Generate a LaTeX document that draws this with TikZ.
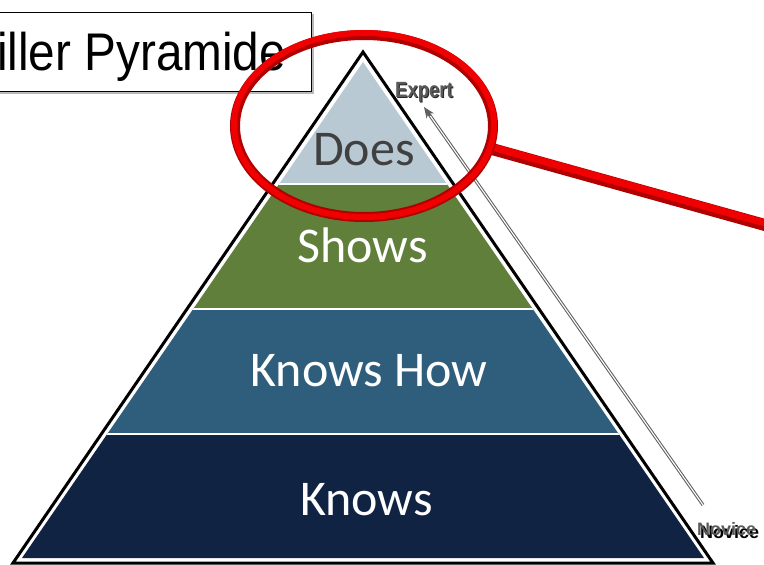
\documentclass[tikz,border=0pt]{standalone}
\usepackage{fontspec}
\setmainfont{Liberation Sans}
\newfontfamily\slidefont{Carlito}
\usetikzlibrary{arrows.meta}

\definecolor{doesfill}{HTML}{B8C9D4}
\definecolor{showsfill}{HTML}{5F7F3B}
\definecolor{howfill}{HTML}{2F5E7C}
\definecolor{knowsfill}{HTML}{102343}
\definecolor{doestext}{HTML}{404040}
\definecolor{lensred}{HTML}{F00000}
\definecolor{lensdark}{HTML}{B00000}
\definecolor{tagtext}{HTML}{5A5A5A}

\tikzset{
  level/.style={font=\slidefont\fontsize{50}{60}\selectfont, text=white,
    anchor=base, inner sep=0pt},
  tag/.style={font=\bfseries\fontsize{#1}{#1}\selectfont, anchor=base west,
    inner sep=0pt},
}

\begin{document}
\begin{tikzpicture}[x=1pt,y=-1pt]
  \useasboundingbox (0,0) rectangle (764,565);

  % title box
  \fill[gray!55] (0,14) rectangle (313.5,93.5);
  \draw[fill=white, line width=1] (-2,12) rectangle (311,91);
  \node[anchor=base west, inner sep=0pt, font=\fontsize{53}{60}\selectfont]
    (title) at (-3,70) {\scalebox{0.9}[1]{iller Pyramide}};

  % pyramid bands
  \begin{scope}
    \clip (363,62) -- (704,558) -- (22,558) -- cycle;
    \fill[doesfill] (0,0) rectangle (764,184);
    \fill[showsfill] (0,184) rectangle (764,309);
    \fill[howfill] (0,309) rectangle (764,434);
    \fill[knowsfill] (0,434) rectangle (764,565);
    \foreach \y in {184,309,434}
      \draw[white, line width=2] (0,\y) -- (764,\y);
  \end{scope}
  \draw[line width=3, line join=miter] (363,52) -- (713,563) -- (13,563) -- cycle;

  % level labels
  \node[level, text=doestext] (does) at (364,165) {Does};
  \node[level] (shows) at (362.5,262) {Shows};
  \node[level] (how) at (369,386) {Knows How};
  \node[level] (knows) at (366.5,515) {Knows};

  % novice -> expert arrow
  \coordinate (foot) at (703,505);
  \coordinate (tip) at (424,107);
  \draw[gray!75!black, line width=3.2, -{Stealth[length=11pt,width=9pt]}] (foot) -- (tip);
  \draw[white, line width=1.1, shorten >=11pt] (foot) -- (tip);

  \node[tag=22, text=black!85] (expertshade) at (396,98)
    {\scalebox{0.84}[1]{Expert}};
  \node[tag=22, text=tagtext] (expert) at (395,97)
    {\scalebox{0.84}[1]{Expert}};
  \node[tag=18, text=black] (noviceshade) at (700,538) {Novice};
  \node[tag=18, text=tagtext] (novice) at (697,535) {Novice};

  % magnifying glass
  \draw[lensdark, line width=12] (492,149) -- (790,232);
  \draw[lensred, line width=7] (492,147) -- (790,230);
  \draw[lensdark, line width=10] (364,126) ellipse [x radius=129, y radius=91];
  \draw[lensred, line width=6] (364,125) ellipse [x radius=130, y radius=92];
\end{tikzpicture}
\end{document}
